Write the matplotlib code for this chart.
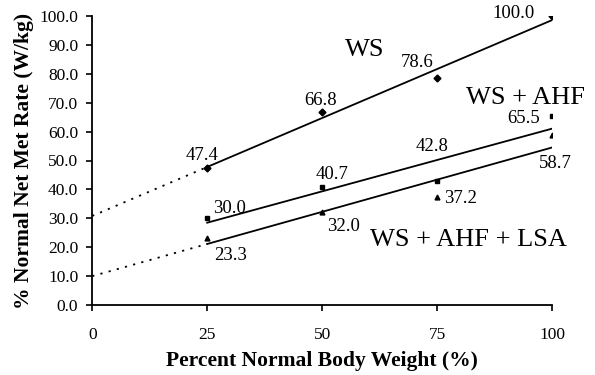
import numpy as np
import matplotlib.pyplot as plt

# data
weight = [25, 50, 75, 100]
ws = [47.4, 66.8, 78.6, 100.0]
ws_ahf = [30.0, 40.7, 42.8, 65.5]
ws_ahf_lsa = [23.3, 32.0, 37.2, 58.7]
x_ticks = [0, 25, 50, 75, 100]

plt.rcParams['font.family'] = ['Liberation Serif', 'DejaVu Serif']

fig = plt.figure(figsize=(5.95, 3.75), dpi=100)
ax = fig.add_axes([0.155, 0.187, 0.773, 0.770])

x = np.array(weight, dtype=float)
series = [(ws, 'D', 3.5, True), (ws_ahf, 's', 3.5, False), (ws_ahf_lsa, '^', 3.5, True)]
for y, mk, ms, extend in series:
    ax.plot(x, y, linestyle='none', marker=mk, markersize=ms, color='black')
    m, b = np.polyfit(x, y, 1)
    ax.plot([x[0], x[-1]], [m * x[0] + b, m * x[-1] + b], color='black', lw=1.3)
    if extend:
        ax.plot([0, x[0]], [b, m * x[0] + b], color='black', lw=1.3,
                linestyle=(0, (1.2, 3.5)))

# value labels (offsets in data units from each point)
ws_off = [(-1.1, 4.5), (-0.4, 4.1), (-4.3, 5.5), (-8.3, 1.0)]
ahf_off = [(4.8, 3.5), (2.2, 4.3), (-1.1, 11.9), (-6.1, -0.8)]
lsa_off = [(5.0, -6.3), (4.6, -5.0), (5.0, -0.2), (0.6, -9.6)]
for vals, offs in [(ws, ws_off), (ws_ahf, ahf_off), (ws_ahf_lsa, lsa_off)]:
    for xi, yi, (dx, dy) in zip(weight, vals, offs):
        ax.text(xi + dx, yi + dy, f'{yi:.1f}', ha='center', va='center', fontsize=13.5)

ax.text(59.3, 88.2, 'WS', ha='center', va='center', fontsize=19)
ax.text(94.3, 71.6, 'WS + AHF', ha='center', va='center', fontsize=19)
ax.text(81.8, 22.5, 'WS + AHF + LSA', ha='center', va='center', fontsize=19)

ax.set_xlim(0, 100)
ax.set_ylim(0, 100)
ax.set_xticks(x_ticks)
ax.set_yticks(np.arange(0, 101, 10))
ax.set_yticklabels([f'{v:.1f}' for v in np.arange(0, 101, 10)])
ax.tick_params(axis='y', direction='out', length=4, width=1.2, pad=6, labelsize=12.5)
ax.tick_params(axis='x', direction='out', length=4, width=1.2, pad=12, labelsize=12.5)
for s in ['top', 'right']:
    ax.spines[s].set_visible(False)
for s in ['left', 'bottom']:
    ax.spines[s].set_linewidth(1.3)

ax.set_xlabel('Percent Normal Body Weight (%)', fontsize=15.5, fontweight='bold', labelpad=6)
ax.set_ylabel('% Normal Net Met Rate (W/kg)', fontsize=15.5, fontweight='bold', labelpad=4)

fig.savefig('out.png', dpi=100)
